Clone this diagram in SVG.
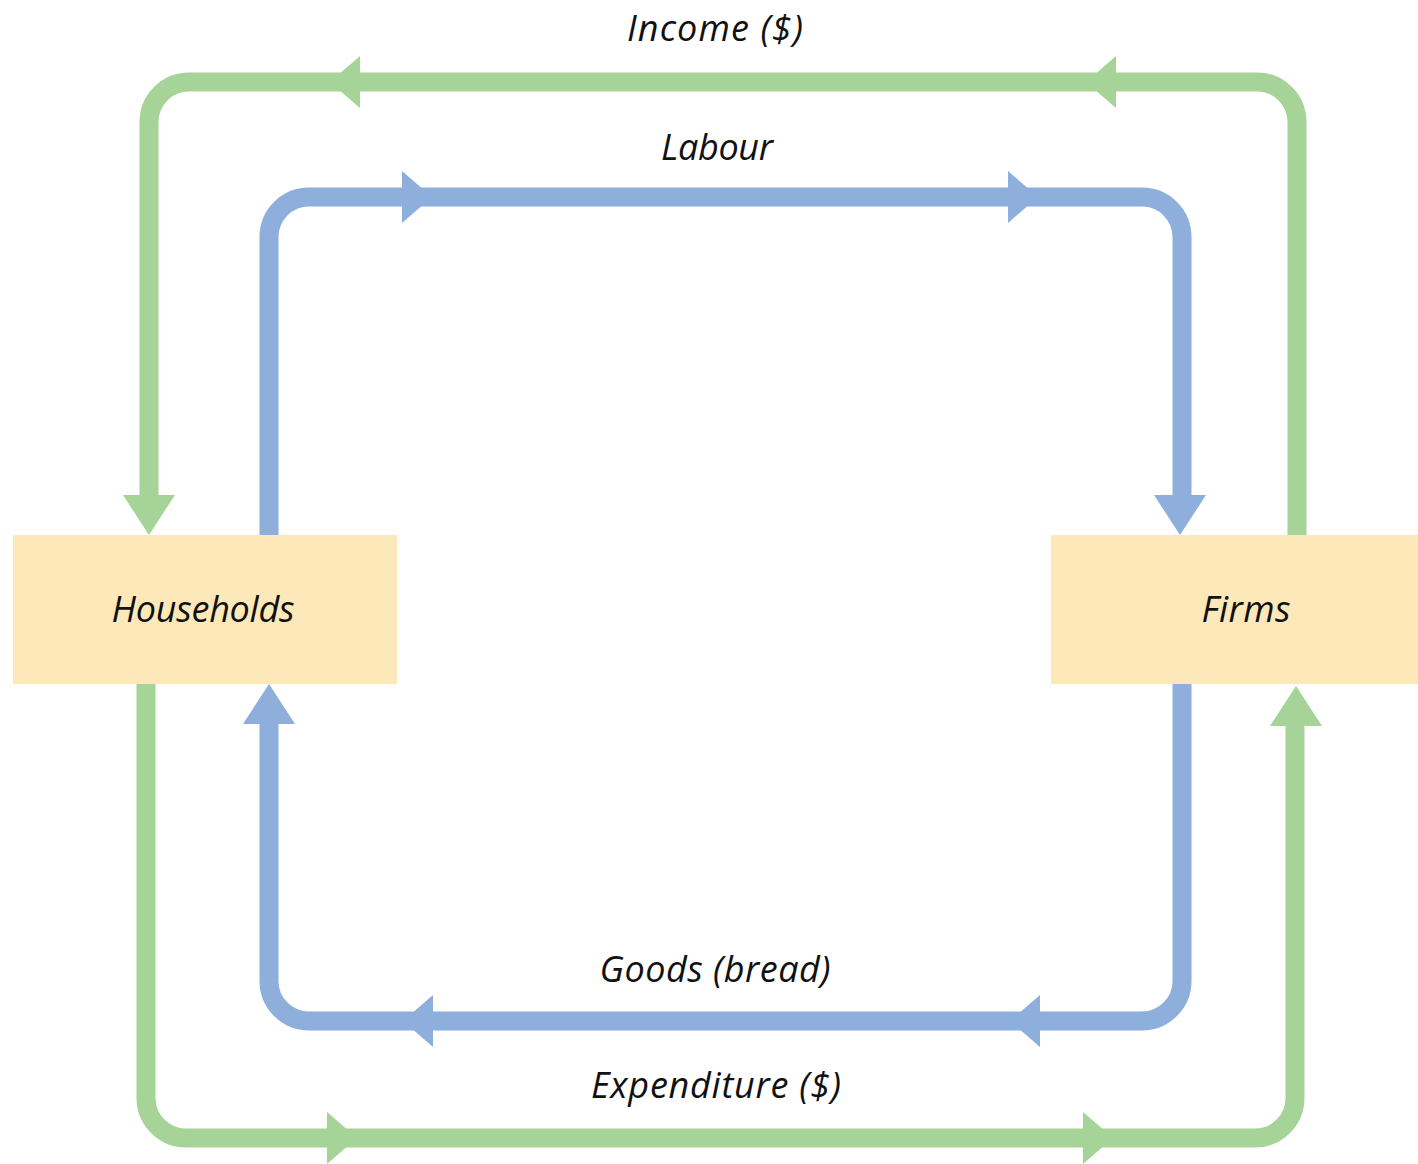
<svg xmlns="http://www.w3.org/2000/svg" xmlns:xlink="http://www.w3.org/1999/xlink" width="1418" height="1164" viewBox="0 0 1418 1164">
  <style>
    .box { fill: #fde8ba; }
    .lbl { font-family: "Open Sans", Lato, "Liberation Sans", sans-serif; font-style: italic; font-size: 36px; fill: #111111; text-anchor: middle; }
    .gline { fill: none; stroke: #a5d398; stroke-width: 19; }
    .bline { fill: none; stroke: #8eaedb; stroke-width: 19; }
    .g { fill: #a5d398; }
    .b { fill: #8eaedb; }
  </style>
  <defs>
    <polygon id="ah" points="0,-26 30,0 0,26"/>
    <polygon id="av" points="-26,0 26,0 0,40"/>
  </defs>
  <rect width="1418" height="1164" fill="#ffffff"/>
  <g id="connectors">
    <g id="income">
      <path class="gline" d="M1297,535 V122 A40,40 0 0 0 1257,82 H189 A40,40 0 0 0 149,122 V500"/>
      <use href="#ah" class="g" transform="translate(360,82) rotate(180)"/>
      <use href="#ah" class="g" transform="translate(1116,82) rotate(180)"/>
      <use href="#av" class="g" transform="translate(149,495)"/>
    </g>
    <g id="labour">
      <path class="bline" d="M269,535 V237 A40,40 0 0 1 309,197 H1142 A40,40 0 0 1 1182,237 V500"/>
      <use href="#ah" class="b" transform="translate(402,197)"/>
      <use href="#ah" class="b" transform="translate(1008,197)"/>
      <use href="#av" class="b" transform="translate(1180,495)"/>
    </g>
    <g id="goods">
      <path class="bline" d="M1182,684 V981 A40,40 0 0 1 1142,1021 H309 A40,40 0 0 1 269,981 V720"/>
      <use href="#ah" class="b" transform="translate(433,1021) rotate(180)"/>
      <use href="#ah" class="b" transform="translate(1040,1021) rotate(180)"/>
      <use href="#av" class="b" transform="translate(269,724) rotate(180)"/>
    </g>
    <g id="expenditure">
      <path class="gline" d="M146,684 V1098 A40,40 0 0 0 186,1138 H1255 A40,40 0 0 0 1295,1098 V725"/>
      <use href="#ah" class="g" transform="translate(327,1138)"/>
      <use href="#ah" class="g" transform="translate(1083,1138)"/>
      <use href="#av" class="g" transform="translate(1296,726) rotate(180)"/>
    </g>
    <text class="lbl" x="715" y="41" textLength="176" lengthAdjust="spacing">Income ($)</text>
    <text class="lbl" x="717" y="160" textLength="112" lengthAdjust="spacing">Labour</text>
    <text class="lbl" x="715" y="982" textLength="231" lengthAdjust="spacing">Goods (bread)</text>
    <text class="lbl" x="716" y="1098" textLength="250" lengthAdjust="spacing">Expenditure ($)</text>
  </g>
  <g id="households">
    <rect class="box" x="13" y="535" width="384" height="149"/>
    <text class="lbl" x="203" y="622" textLength="183" lengthAdjust="spacing">Households</text>
  </g>
  <g id="firms">
    <rect class="box" x="1051" y="535" width="367" height="149"/>
    <text class="lbl" x="1246" y="622" textLength="89" lengthAdjust="spacing">Firms</text>
  </g>
</svg>
